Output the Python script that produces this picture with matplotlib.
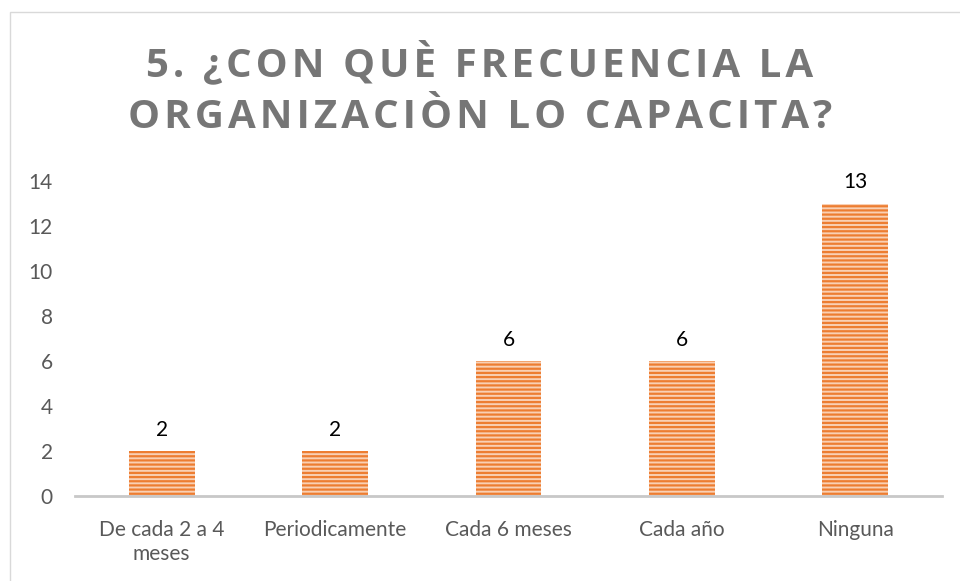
#frecuencia de capacitacion - bar chart
import numpy as np
import matplotlib.pyplot as plt
from matplotlib.patches import Rectangle

categorias = ['De cada 2 a 4\nmeses', 'Periodicamente', 'Cada 6 meses', 'Cada año', 'Ninguna']
valores = [2, 2, 6, 6, 13]
yticks = [0, 2, 4, 6, 8, 10, 12, 14]
titulo = ['5. ¿CON QUÈ FRECUENCIA LA', 'ORGANIZACIÒN LO CAPACITA?']

plt.rcParams['font.family'] = ['Lato', 'DejaVu Sans']
plt.rcParams['hatch.linewidth'] = 1.6
plt.rcParams['hatch.color'] = '#ED7D31'

fig = plt.figure(figsize=(9.6, 5.81), dpi=100)
ax = fig.add_axes([75/960, 1-496/581, (942-75)/960, (496-181)/581])

x = np.arange(len(categorias))
bars = ax.bar(x, valores, width=0.38, color='#F9D0B4', edgecolor='#ED7D31',
              hatch='----', linewidth=0)
for xi, v in zip(x, valores):
    ax.text(xi, v + 0.5, str(v), ha='center', va='bottom', fontsize=15, color='black')

ax.set_xlim(-0.5, len(categorias) - 0.5)
ax.set_ylim(0, 14)
ax.set_yticks(yticks)
ax.set_xticks(x)
ax.set_xticklabels(categorias, fontsize=15, color='#595959', linespacing=1.25)
ax.tick_params(axis='y', labelsize=15, labelcolor='#595959', length=0, pad=16)
ax.tick_params(axis='x', length=0, pad=17)
for s in ['top', 'right', 'left']:
    ax.spines[s].set_visible(False)
ax.spines['bottom'].set_color('#C8C8C8')
ax.spines['bottom'].set_linewidth(2)

# titulo con espaciado entre letras
sep = '\u200a'
lineas = [sep.join(t) for t in titulo]
fig.text(0.5, 1-63/581, lineas[0], ha='center', va='center', fontsize=29,
         fontweight='bold', color='#767676', family=['Open Sans', 'DejaVu Sans'])
fig.text(0.5, 1-118/581, lineas[1], ha='center', va='center', fontsize=29,
         fontweight='bold', color='#767676', family=['Open Sans', 'DejaVu Sans'])

# borde del grafico
fig.patches.append(Rectangle((10/960, -0.01), 1.0, 1-12/581+0.01, transform=fig.transFigure,
                             fill=False, edgecolor='#D9D9D9', linewidth=1))

plt.savefig('out.png', dpi=100)
